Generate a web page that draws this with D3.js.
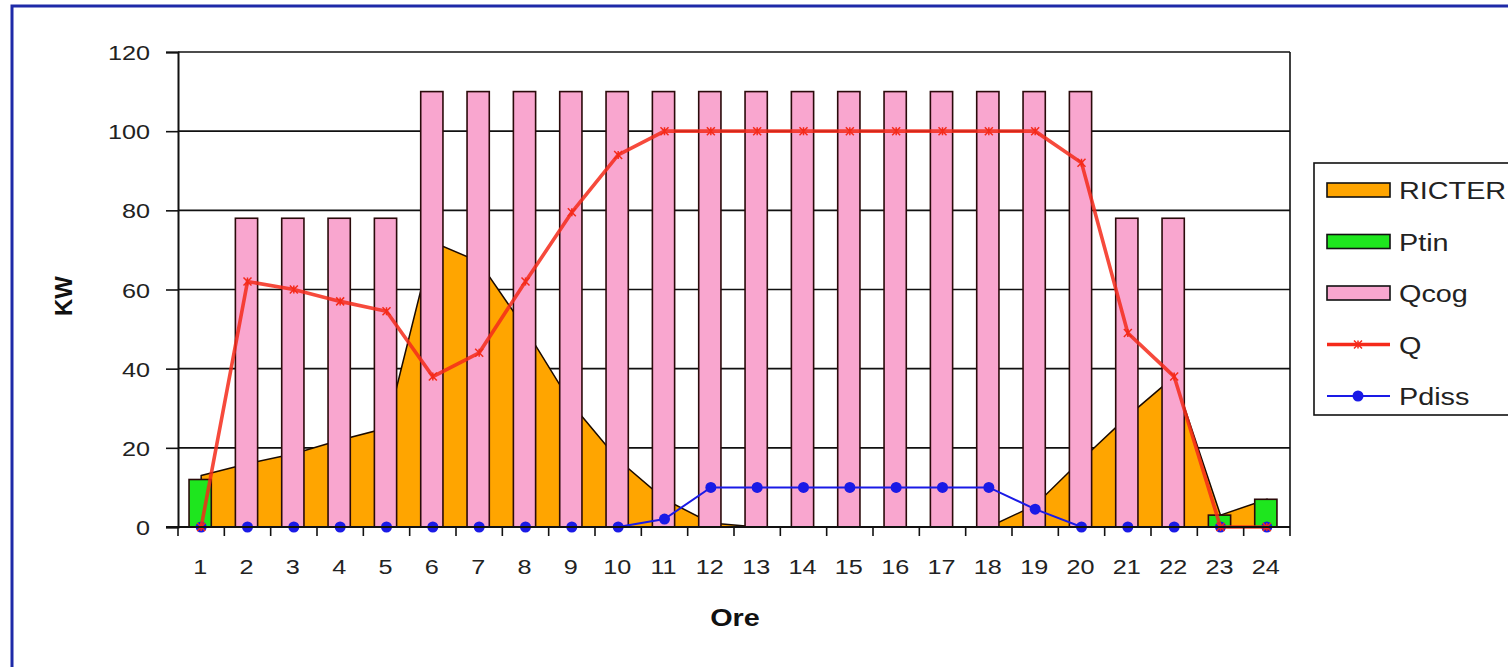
<!DOCTYPE html>
<html>
<head>
<meta charset="utf-8">
<script src="https://cdn.jsdelivr.net/npm/d3@7"></script>
<style>
    body { margin: 0; background: #fff; }
    svg text { font-family: "Liberation Sans", Arial, sans-serif; }
    .axis-label { font-size: 21px; fill: #222; }
    .axis-title { font-size: 24px; font-weight: bold; fill: #111; }
    .legend-text { font-size: 24px; fill: #222; }
</style>
</head>
<body>
<div id="chart"></div>
<script>

// Hours of the day (categories)
const hours = d3.range(1, 25);

// Series values, kW
const ricter = [13, 16, 18.5, 22, 25, 72, 67, 50, 31, 17, 7, 1, 0, 0, 0, 0, 0, 0, 5.5, 17, 28, 38, 3, 7];
const ptin   = [12, 0, 0, 0, 0, 0, 0, 0, 0, 0, 0, 0, 0, 0, 0, 0, 0, 0, 0, 0, 0, 0, 3, 7];
const qcog   = [0, 78, 78, 78, 78, 110, 110, 110, 110, 110, 110, 110, 110, 110, 110, 110, 110, 110, 110, 110, 78, 78, 0, 0];
const q      = [0, 62, 60, 57, 54.5, 38, 44, 62, 79.5, 94, 100, 100, 100, 100, 100, 100, 100, 100, 100, 92, 49, 38, 0, 0];
const pdiss  = [0, 0, 0, 0, 0, 0, 0, 0, 0, 0, 2, 10, 10, 10, 10, 10, 10, 10, 4.5, 0, 0, 0, 0, 0];

const yTicks = [0, 20, 40, 60, 80, 100, 120];
const legendNames = ["RICTER", "Ptin", "Qcog", "Q", "Pdiss"];

const colors = {
    ricter: "#ffa500",
    ptin:   "#1ee61e",
    qcog:   "#f9a6cf",
    q:      "#f52a1a",
    pdiss:  "#1a1ae6",
    frame:  "#1e2aa8"
};

// the source picture is a little stretched sideways, text follows it
const STRETCH = 1.2;

class ComboChart {

    constructor(selector) {
        this.width = 1508;
        this.height = 667;
        this.plot = {left: 178, right: 1290, top: 52, bottom: 527};

        this.svg = d3.select(selector)
            .append("svg")
                .attr("width", this.width)
                .attr("height", this.height);

        this.x = d3.scaleBand().domain(hours).range([this.plot.left, this.plot.right]);
        this.y = d3.scaleLinear().domain([0, 120]).range([this.plot.bottom, this.plot.top]);

        this.drawFrame();
        this.drawGrid();
        this.drawArea();
        this.drawBars();
        this.drawLines();
        this.drawAxes();
        this.drawLegend();
    }

    cx(h) {
        return this.x(h) + this.x.bandwidth() / 2;
    }

    // text placed at (x, y) and widened around its anchor
    wideText(g, x, y, cls, anchor, txt) {
        return g.append("text")
            .attr("class", cls)
            .attr("text-anchor", anchor)
            .attr("transform", "translate(" + x + "," + y + ") scale(" + STRETCH + ",1)")
            .text(txt);
    }

    drawFrame() {
        // blue outer border of the chart object, only top and left are in view
        this.svg.append("rect")
            .attr("x", 12).attr("y", 6)
            .attr("width", 1530).attr("height", 700)
            .attr("fill", "none")
            .attr("stroke", colors.frame)
            .attr("stroke-width", 3);
    }

    drawGrid() {
        let that = this;
        this.svg.append("g")
            .selectAll("line")
            .data(yTicks.filter(d => d > 0))
            .join("line")
                .attr("x1", this.plot.left).attr("x2", this.plot.right)
                .attr("y1", d => that.y(d)).attr("y2", d => that.y(d))
                .attr("stroke", "#111")
                .attr("stroke-width", 1.6);

        // right edge of the plot area
        this.svg.append("line")
            .attr("x1", this.plot.right).attr("x2", this.plot.right)
            .attr("y1", this.plot.top).attr("y2", this.plot.bottom)
            .attr("stroke", "#111")
            .attr("stroke-width", 1.6);
    }

    drawArea() {
        let that = this;
        let area = d3.area()
            .x((d, i) => that.cx(hours[i]))
            .y0(this.y(0))
            .y1(d => that.y(d));

        this.svg.append("path")
            .attr("d", area(ricter))
            .attr("fill", colors.ricter)
            .attr("stroke", "#1a0a00")
            .attr("stroke-width", 1.5);
    }

    drawBars() {
        let that = this;
        let bw = this.x.bandwidth() * 0.48;

        // Ptin and Qcog share the slot, never both non zero
        [[ptin, colors.ptin], [qcog, colors.qcog]].forEach(function(s) {
            that.svg.append("g")
                .selectAll("rect")
                .data(s[0].map((v, i) => ({h: hours[i], v: v})).filter(d => d.v > 0))
                .join("rect")
                    .attr("x", d => that.cx(d.h) - bw / 2 - 1)
                    .attr("width", bw)
                    .attr("y", d => that.y(d.v))
                    .attr("height", d => that.y(0) - that.y(d.v))
                    .attr("fill", s[1])
                    .attr("stroke", "#2a0a0a")
                    .attr("stroke-width", 1.6);
        });
    }

    drawLines() {
        let that = this;
        let line = d3.line()
            .x((d, i) => that.cx(hours[i]))
            .y(d => that.y(d));

        // Pdiss, thin blue with round dots
        this.svg.append("path")
            .attr("d", line(pdiss))
            .attr("fill", "none")
            .attr("stroke", colors.pdiss)
            .attr("stroke-width", 2);
        this.svg.append("g")
            .selectAll("circle")
            .data(pdiss)
            .join("circle")
                .attr("cx", (d, i) => that.cx(hours[i]))
                .attr("cy", d => that.y(d))
                .attr("r", 5.5)
                .attr("fill", colors.pdiss);

        // Q, thick red with small star markers
        this.svg.append("path")
            .attr("d", line(q))
            .attr("fill", "none")
            .attr("stroke", colors.q)
            .attr("stroke-width", 3.6)
            .attr("opacity", 0.85);
        this.svg.append("g")
            .selectAll("path")
            .data(q)
            .join("path")
                .attr("d", (d, i) => that.starPath(that.cx(hours[i]), that.y(d), 4))
                .attr("stroke", colors.q)
                .attr("stroke-width", 1.5)
                .attr("fill", "none");
    }

    starPath(x, y, s) {
        return "M" + (x - s) + "," + (y - s) + "L" + (x + s) + "," + (y + s) +
               "M" + (x - s) + "," + (y + s) + "L" + (x + s) + "," + (y - s) +
               "M" + x + "," + (y - s) + "L" + x + "," + (y + s);
    }

    drawAxes() {
        let that = this;

        // Y axis
        let yAxis = d3.axisLeft(this.y).tickValues(yTicks).tickSize(12);
        let gy = this.svg.append("g")
            .attr("transform", "translate(" + this.plot.left + ",0)")
            .call(yAxis);
        gy.select(".domain").attr("stroke", "#111").attr("stroke-width", 2);
        gy.selectAll(".tick line").attr("stroke", "#111").attr("stroke-width", 1.6);
        gy.selectAll(".tick text")
            .attr("class", "axis-label")
            .attr("font-size", null).attr("fill", null)
            .attr("x", 0).attr("dy", "0.36em")
            .attr("transform", "translate(-28,0) scale(" + STRETCH + ",1)");

        // X axis, labels at centers, ticks between categories
        let gx = this.svg.append("g");
        gx.append("line")
            .attr("x1", this.plot.left - 12).attr("x2", this.plot.right)
            .attr("y1", this.plot.bottom).attr("y2", this.plot.bottom)
            .attr("stroke", "#111").attr("stroke-width", 2);
        gx.selectAll("line.tk")
            .data(hours.concat([25]))
            .join("line")
                .attr("class", "tk")
                .attr("x1", d => d > 24 ? that.plot.right : that.x(d))
                .attr("x2", d => d > 24 ? that.plot.right : that.x(d))
                .attr("y1", this.plot.bottom).attr("y2", this.plot.bottom + 9)
                .attr("stroke", "#111").attr("stroke-width", 1.6);
        hours.forEach(function(h) {
            that.wideText(gx, that.cx(h) - 1, 574, "axis-label", "middle", h);
        });

        // Titles
        this.wideText(this.svg, 735, 626, "axis-title", "middle", "Ore");
        this.svg.append("text")
            .attr("class", "axis-title")
            .attr("font-size", 29)
            .attr("transform", "translate(72,296) rotate(-90)")
            .attr("text-anchor", "middle")
            .text("KW");
    }

    drawLegend() {
        let that = this;
        let lg = this.svg.append("g");

        lg.append("rect")
            .attr("x", 1314).attr("y", 163)
            .attr("width", 240).attr("height", 252)
            .attr("fill", "#fff")
            .attr("stroke", "#111")
            .attr("stroke-width", 1.6);

        let fills = [colors.ricter, colors.ptin, colors.qcog];
        legendNames.forEach(function(name, i) {
            let cy = 190 + i * 51.5;
            if (i < 3) {
                lg.append("rect")
                    .attr("x", 1327).attr("y", cy - 7)
                    .attr("width", 63).attr("height", 14)
                    .attr("fill", fills[i])
                    .attr("stroke", "#111")
                    .attr("stroke-width", 1.6);
            } else if (name === "Q") {
                lg.append("line")
                    .attr("x1", 1327).attr("x2", 1390)
                    .attr("y1", cy).attr("y2", cy)
                    .attr("stroke", colors.q).attr("stroke-width", 3.6);
                lg.append("path")
                    .attr("d", that.starPath(1358, cy, 4))
                    .attr("stroke", colors.q).attr("stroke-width", 1.5);
            } else {
                lg.append("line")
                    .attr("x1", 1327).attr("x2", 1390)
                    .attr("y1", cy).attr("y2", cy)
                    .attr("stroke", colors.pdiss).attr("stroke-width", 2);
                lg.append("circle")
                    .attr("cx", 1358).attr("cy", cy).attr("r", 5.5)
                    .attr("fill", colors.pdiss);
            }
            that.wideText(lg, 1399, cy + 9, "legend-text", "start", name);
        });
    }
}

new ComboChart("#chart");

</script>
</body>
</html>
